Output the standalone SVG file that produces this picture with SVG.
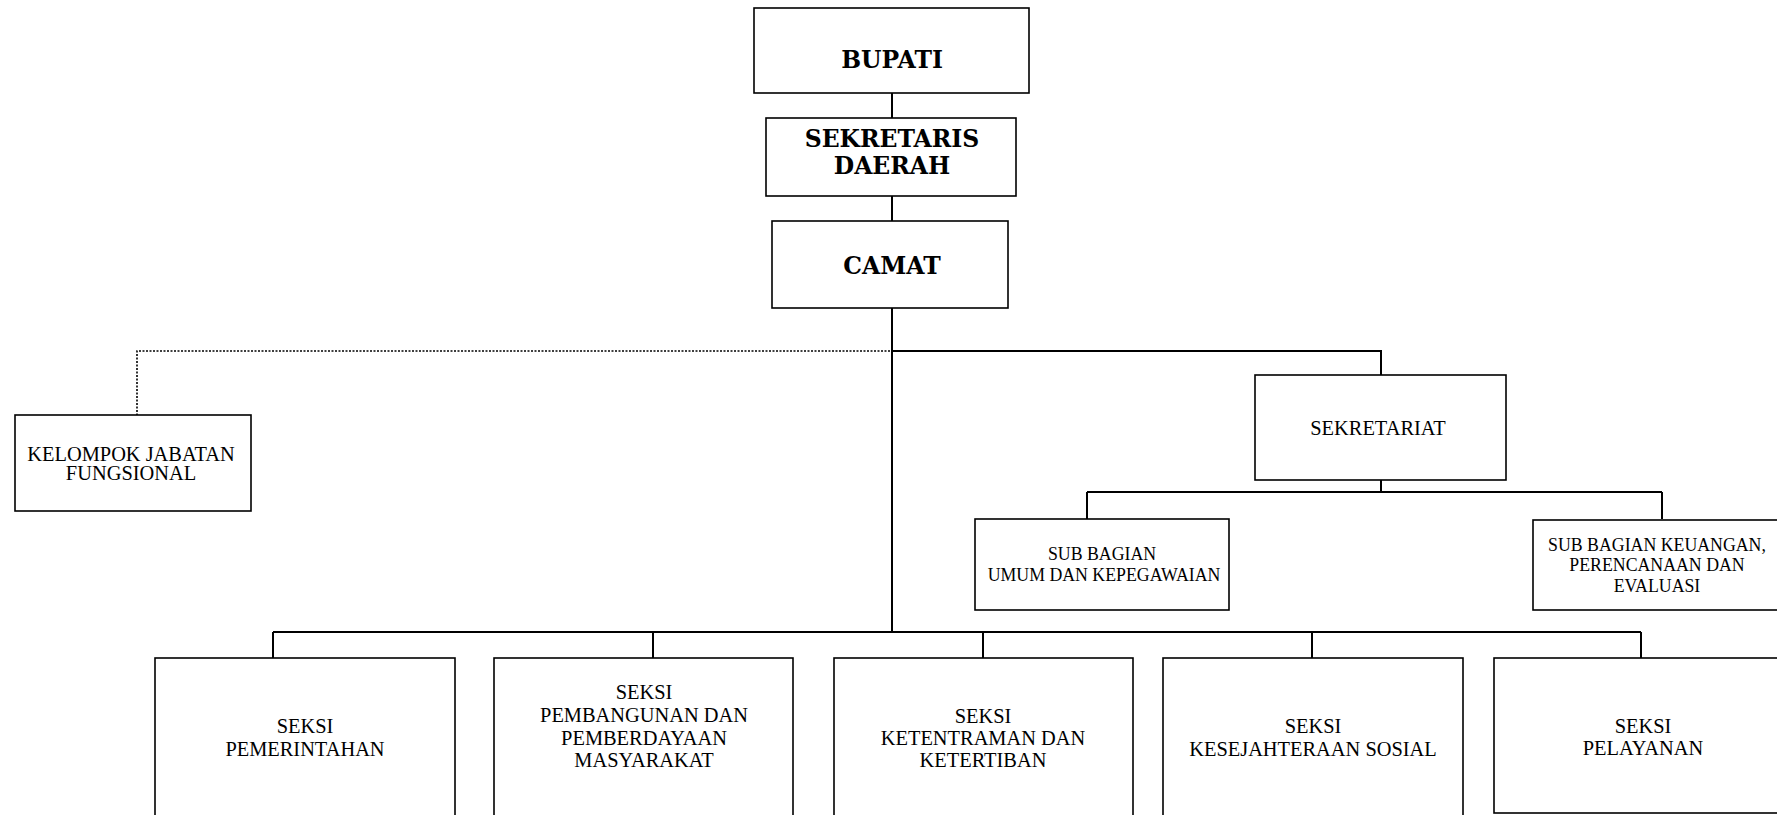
<svg xmlns="http://www.w3.org/2000/svg" width="1777" height="815" viewBox="0 0 1777 815">
<style>
.box{fill:#fff;stroke:#000;stroke-width:1.6}
.con{fill:none;stroke:#000;stroke-width:2}
.dot{fill:none;stroke:#000;stroke-width:1.6;stroke-dasharray:2 1.5}
.tb{font-family:"DejaVu Serif","Liberation Serif",serif;font-weight:bold;font-size:23.5px;text-anchor:middle;fill:#000}
.t{font-family:"Liberation Serif",serif;font-size:20.4px;text-anchor:middle;fill:#000}
.ts{font-family:"Liberation Serif",serif;font-size:17.8px;text-anchor:middle;fill:#000}
</style>
<rect width="1777" height="815" fill="#fff"/>
<g id="connectors">
<path class="con" d="M892 93V118M892 196V221M892 308V632M892 351H1381V375"/>
<path class="dot" d="M890 351H137V415"/>
<path class="con" d="M1381 480V493M1087 492H1662M1087 492V519M1662 492V519"/>
<path class="con" d="M273 632H1641M273 632V658M653 632V658M983 632V658M1312 632V658M1641 632V658"/>
</g>
<g id="bupati"><rect class="box" x="754" y="8" width="275" height="85"/><text class="tb" x="892" y="68">BUPATI</text></g>
<g id="sekda"><rect class="box" x="766" y="118" width="250" height="78"/><text class="tb" x="892" y="147">SEKRETARIS</text><text class="tb" x="892" y="174">DAERAH</text></g>
<g id="camat"><rect class="box" x="772" y="221" width="236" height="87"/><text class="tb" x="892" y="274">CAMAT</text></g>
<g id="kelompok"><rect class="box" x="15" y="415" width="236" height="96"/><text class="t" x="131" y="461">KELOMPOK JABATAN</text><text class="t" x="131" y="480">FUNGSIONAL</text></g>
<g id="sekretariat"><rect class="box" x="1255" y="375" width="251" height="105"/><text class="t" x="1378" y="435">SEKRETARIAT</text></g>
<g id="subumum"><rect class="box" x="975" y="519" width="254" height="91"/><text class="ts" x="1102" y="560">SUB BAGIAN</text><text class="ts" x="1104" y="581">UMUM DAN KEPEGAWAIAN</text></g>
<g id="subkeuangan"><rect class="box" x="1533" y="520" width="260" height="90"/><text class="ts" x="1657" y="551">SUB BAGIAN KEUANGAN,</text><text class="ts" x="1657" y="571">PERENCANAAN DAN</text><text class="ts" x="1657" y="592">EVALUASI</text></g>
<g id="seksi1"><rect class="box" x="155" y="658" width="300" height="170"/><text class="t" x="305" y="733">SEKSI</text><text class="t" x="305" y="756">PEMERINTAHAN</text></g>
<g id="seksi2"><rect class="box" x="494" y="658" width="299" height="170"/><text class="t" x="644" y="699">SEKSI</text><text class="t" x="644" y="722">PEMBANGUNAN DAN</text><text class="t" x="644" y="745">PEMBERDAYAAN</text><text class="t" x="644" y="767">MASYARAKAT</text></g>
<g id="seksi3"><rect class="box" x="834" y="658" width="299" height="170"/><text class="t" x="983" y="723">SEKSI</text><text class="t" x="983" y="745">KETENTRAMAN DAN</text><text class="t" x="983" y="767">KETERTIBAN</text></g>
<g id="seksi4"><rect class="box" x="1163" y="658" width="300" height="170"/><text class="t" x="1313" y="733">SEKSI</text><text class="t" x="1313" y="756">KESEJAHTERAAN SOSIAL</text></g>
<g id="seksi5"><rect class="box" x="1494" y="658" width="300" height="155"/><text class="t" x="1643" y="733">SEKSI</text><text class="t" x="1643" y="755">PELAYANAN</text></g>
</svg>
